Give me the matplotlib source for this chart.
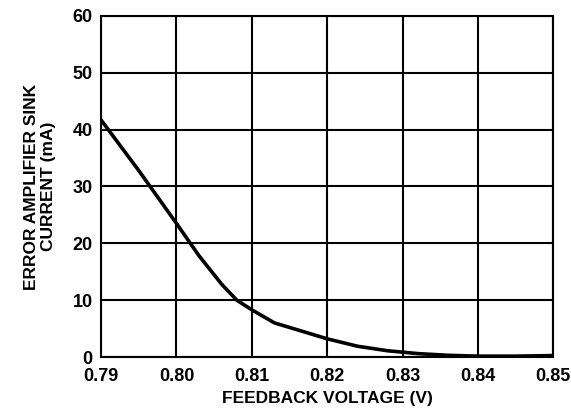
import matplotlib
matplotlib.use("Agg")
import matplotlib.pyplot as plt
import numpy as np

plt.rcParams['font.family'] = ['Liberation Sans', 'DejaVu Sans']
plt.rcParams['font.weight'] = 'bold'

# feedback voltage (V) and sink current (mA)
voltage = [0.790, 0.795, 0.800, 0.803, 0.806, 0.808, 0.810, 0.813, 0.816, 0.820, 0.824, 0.828, 0.832, 0.836, 0.840, 0.845, 0.850]
current = [41.7, 32.8, 23.5, 17.8, 12.8, 10.0, 8.3, 6.0, 4.8, 3.2, 1.9, 1.1, 0.6, 0.3, 0.15, 0.15, 0.25]

x_ticks = [0.79, 0.80, 0.81, 0.82, 0.83, 0.84, 0.85]
y_ticks = [0, 10, 20, 30, 40, 50, 60]

fig = plt.figure(figsize=(5.71, 4.08), dpi=100)
ax = fig.add_axes([0.177, 0.125, 0.792, 0.836])

ax.plot(voltage, current, color='black', linewidth=2.6, solid_capstyle='round')

ax.set_xlim(0.79, 0.85)
ax.set_ylim(0, 60)
ax.set_xticks(x_ticks)
ax.set_xticklabels(["%.2f" % v for v in x_ticks])
ax.set_yticks(y_ticks)
ax.grid(True, color='black', linewidth=1.5)
for s in ax.spines.values():
    s.set_linewidth(1.5)
ax.tick_params(length=0, labelsize=13)
ax.tick_params(axis='x', pad=8)
ax.tick_params(axis='y', pad=6)
for lab in ax.get_xticklabels() + ax.get_yticklabels():
    lab.set_fontweight('bold')

ax.set_xlabel("FEEDBACK VOLTAGE (V)", fontsize=12.5, fontweight='bold', labelpad=4)
ax.set_ylabel("ERROR AMPLIFIER SINK\nCURRENT (mA)", fontsize=12.5, fontweight='bold', labelpad=12)

fig.savefig("out.png", dpi=100)
